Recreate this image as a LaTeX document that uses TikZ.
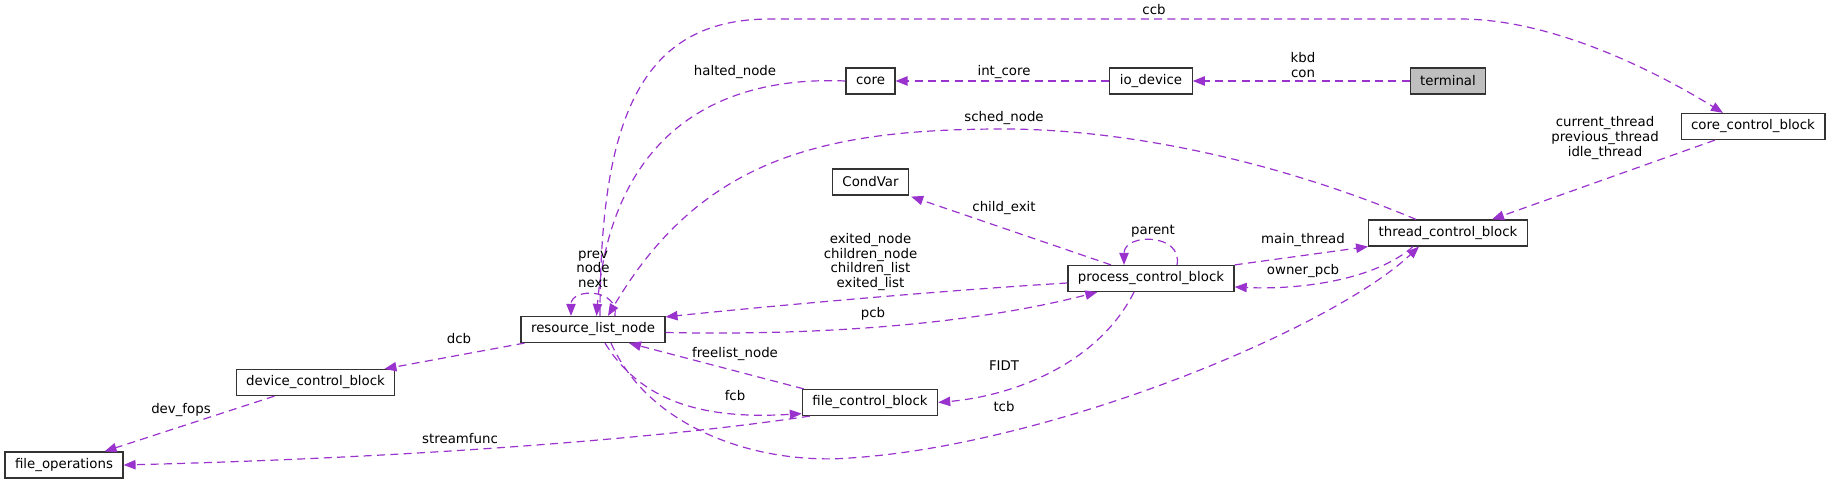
\documentclass[tikz,border=0pt]{standalone}
\usepackage{fontspec}
\setmainfont{DejaVu Sans}
\usetikzlibrary{arrows.meta,calc}
\definecolor{edgeC}{HTML}{9A32CD}
\definecolor{rootC}{HTML}{BFBFBF}

\begin{document}
\begin{tikzpicture}[
    x=0.75pt, y=-0.75pt,
    block/.style={draw=black!80, line width=0.9pt, fill=white,
                  minimum height=19.5pt, inner xsep=7.5pt,
                  font=\fontsize{10}{12}\selectfont},
    arr/.style={-{Triangle[length=9pt,width=7pt]}, edgeC, line width=0.9pt,
                dash pattern=on 6pt off 4pt},
    lbl/.style={font=\fontsize{10}{10.9}\selectfont, align=center,
                inner sep=0pt},
]
\useasboundingbox (0,0) rectangle (1831,484);

% --- classes ---
\node[block, fill=rootC] (terminal) at (1448, 81) {terminal};
\node[block] (io) at (1151, 81) {io\_device};
\node[block] (core) at (870.5, 81) {core};
\node[block] (corecb) at (1753, 126.5) {core\_control\_block};
\node[block] (tcb) at (1448, 233) {thread\_control\_block};
\node[block] (condvar) at (870.5, 182) {CondVar};
\node[block] (pcb) at (1151, 278.5) {process\_control\_block};
\node[block] (rln) at (593, 329.5) {resource\_list\_node};
\node[block] (dcb) at (315.5, 382.5) {device\_control\_block};
\node[block] (fcb) at (870, 402.5) {file\_control\_block};
\node[block] (fops) at (64, 465) {file\_operations};

% --- top row ---
\draw[arr] (terminal) -- (io);
\node[lbl] (lkbd) at (1303, 65) {kbd\\con};
\draw[arr] (io) -- (core);
\node[lbl] (lintcore) at (1004, 72) {int\_core};
\draw[arr] (core.west) .. controls (700,75) and (610,150)
    .. ($(rln.north)+(3.5,0)$);
\node[lbl] (lhalted) at (735, 72) {halted\_node};

% ccb runs over the whole picture
\draw[arr] ($(rln.north)+(7,0)$) .. controls (600,120) and (640,19) .. (770,19)
    -- (1460,19) .. controls (1560,19) and (1670,80) .. ($(corecb.north)+(-30,0)$);
\node[lbl] (lccb) at (1154, 10) {ccb};

\draw[arr] ($(tcb.north)+(-32,0)$) .. controls (1250,150) and (1100,129) .. (1004,129)
    .. controls (820,129) and (700,160) .. ($(rln.north)+(15,0)$);
\node[lbl] (lsched) at (1004, 118) {sched\_node};

\draw[arr] ($(corecb.south)+(-38,0)$) -- ($(tcb.north)+(44,0)$);
\node[lbl] (lcurrent) at (1605, 138) {current\_thread\\previous\_thread\\idle\_thread};

% --- process / thread ---
\draw[arr] ($(pcb.north)+(-40,0)$) -- ($(condvar.south east)+(2,1)$);
\node[lbl] (lchild) at (1004, 208) {child\_exit};
\draw[arr] ($(pcb.north)+(26,0)$) .. controls +(6,-32) and +(0,-32)
    .. ($(pcb.north)+(-27,0)$);
\node[lbl] (lparent) at (1153, 231) {parent};
\draw[arr] (pcb.north east) -- (tcb.south west);
\node[lbl] (lmain) at (1303, 240) {main\_thread};
\draw[arr] ($(tcb.south)+(-35,0)$) .. controls (1375,280) and (1300,290)
    .. ($(pcb.east)+(0,8.5)$);
\node[lbl] (lowner) at (1303, 271) {owner\_pcb};

% --- resource_list_node ---
\draw[arr] ($(rln.north)+(22,0)$) .. controls +(4,-28) and +(0,-28)
    .. ($(rln.north)+(-22,0)$);
\node[lbl] (lprev) at (593, 269) {prev\\node\\next};
\draw[arr] ($(pcb.west)+(0,4.5)$) .. controls (950,290) and (780,305)
    .. ($(rln.north east)+(0,1)$);
\node[lbl] (lexited) at (870.5, 262) {exited\_node\\children\_node\\children\_list\\exited\_list};
\draw[arr] ($(rln.east)+(0,3)$) .. controls (780,335) and (950,330)
    .. ($(pcb.south west)+(30,0)$);
\node[lbl] (lpcb) at (873, 314) {pcb};
\draw[arr] ($(rln.south)+(18,0)$) .. controls (650,430) and (760,465) .. (850,458)
    .. controls (1050,445) and (1330,330) .. ($(tcb.south)+(-29,0)$);
\node[lbl] (ltcb) at (1004, 407) {tcb};

% --- files / devices ---
\draw[arr] ($(fcb.north west)+(2,0)$) -- ($(rln.south)+(36,0)$);
\node[lbl] (lfree) at (735, 354) {freelist\_node};
\draw[arr] ($(rln.south)+(12,0)$) .. controls (640,400) and (700,420)
    .. ($(fcb.south west)+(0,-2.5)$);
\node[lbl] (lfcb) at (735, 396) {fcb};
\draw[arr] ($(fcb.south west)+(8,0)$) .. controls (650,440) and (400,458) .. (fops.east);
\node[lbl] (lstream) at (460, 439) {streamfunc};
\draw[arr] ($(pcb.south)+(-17,0)$) .. controls (1100,360) and (1020,395) .. (fcb.east);
\node[lbl] (lfidt) at (1004, 366) {FIDT};
\draw[arr] ($(rln.south west)+(4,0)$) -- ($(dcb.north east)+(-11,0)$);
\node[lbl] (ldcb) at (459, 339) {dcb};
\draw[arr] ($(dcb.south)+(-41,0)$) -- ($(fops.north east)+(-19,0)$);
\node[lbl] (ldevfops) at (181, 410) {dev\_fops};

\end{tikzpicture}
\end{document}
